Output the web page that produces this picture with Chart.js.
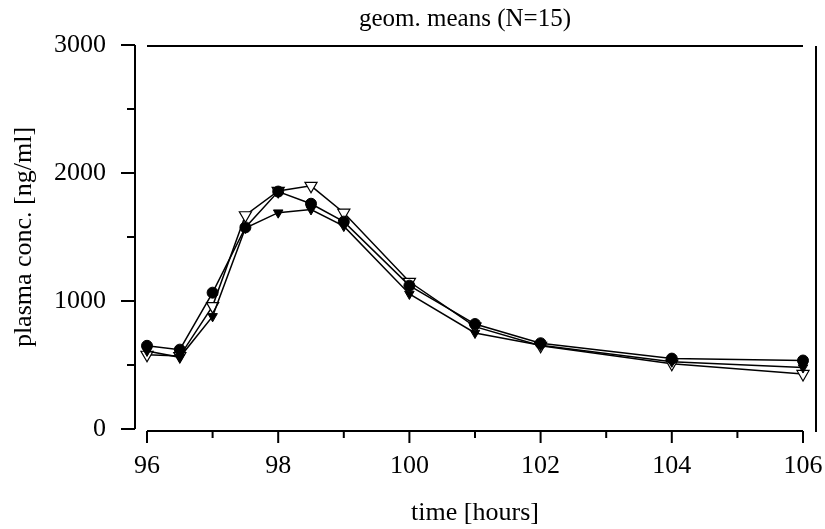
<!DOCTYPE html>
<html>
<head>
<meta charset="utf-8">
<script src="https://cdn.jsdelivr.net/npm/chart.js@4"></script>
<style>
  html, body { margin: 0; padding: 0; background: #fff; }
  #wrap { width: 825px; height: 529px; }
</style>
</head>
<body>
<div id="wrap"><canvas id="pk_chart" width="825" height="529"></canvas></div>
<script>
// sampling times (hours)
var hours = [96, 96.5, 97, 97.5, 98, 98.5, 99, 100, 101, 102, 104, 106];
// geometric means, plasma conc. [ng/ml]
var conc_circle = [650, 620, 1065, 1575, 1855, 1760, 1620, 1120, 820, 670, 550, 535];
var conc_filled_tri = [610, 560, 880, 1570, 1690, 1715, 1585, 1055, 750, 655, 525, 480];
var conc_open_tri = [580, 570, 960, 1670, 1860, 1900, 1690, 1150, 800, 650, 510, 430];

var x_major = [96, 98, 100, 102, 104, 106];
var x_minor = [97, 99, 101, 103, 105];
var y_major = [0, 1000, 2000, 3000];
var y_minor = [500, 1500, 2500];

function pts(ys) {
  return hours.map(function (h, i) { return {x: h, y: ys[i]}; });
}

var serif = '"Liberation Serif", "DejaVu Serif", serif';

function noPad(scale) {
  scale.paddingTop = 0;
  scale.paddingBottom = 0;
  scale.paddingLeft = 0;
  scale.paddingRight = 0;
}

// draws the detached axes, tick marks, frame and title
const framePlugin = {
  id: 'frame',
  afterDraw(chart) {
    const ctx = chart.ctx;
    const xs = chart.scales.x, ys = chart.scales.y;
    const area = chart.chartArea;
    const yAxisX = area.left - 12;
    const xAxisY = area.bottom + 2;
    ctx.save();
    ctx.strokeStyle = '#000';
    ctx.lineWidth = 2;
    ctx.beginPath();
    // y axis
    ctx.moveTo(yAxisX, ys.getPixelForValue(3000));
    ctx.lineTo(yAxisX, ys.getPixelForValue(0));
    y_major.forEach(function (v) {
      ctx.moveTo(yAxisX - 14, ys.getPixelForValue(v));
      ctx.lineTo(yAxisX, ys.getPixelForValue(v));
    });
    y_minor.forEach(function (v) {
      ctx.moveTo(yAxisX - 8, ys.getPixelForValue(v));
      ctx.lineTo(yAxisX, ys.getPixelForValue(v));
    });
    // x axis
    ctx.moveTo(xs.getPixelForValue(96), xAxisY);
    ctx.lineTo(xs.getPixelForValue(106), xAxisY);
    x_major.forEach(function (v) {
      ctx.moveTo(xs.getPixelForValue(v), xAxisY);
      ctx.lineTo(xs.getPixelForValue(v), xAxisY + 12);
    });
    x_minor.forEach(function (v) {
      ctx.moveTo(xs.getPixelForValue(v), xAxisY);
      ctx.lineTo(xs.getPixelForValue(v), xAxisY + 7);
    });
    // top and right frame
    const topY = ys.getPixelForValue(3000) + 1;
    ctx.moveTo(xs.getPixelForValue(96), topY);
    ctx.lineTo(xs.getPixelForValue(106), topY);
    const rightX = xs.getPixelForValue(106) + 13;
    ctx.moveTo(rightX, topY);
    ctx.lineTo(rightX, xAxisY + 1);
    ctx.stroke();

    ctx.fillStyle = '#000';
    ctx.font = '25px ' + serif;
    ctx.textAlign = 'center';
    ctx.textBaseline = 'middle';
    ctx.fillText('geom. means (N=15)', 465, 19);
    ctx.restore();
  }
};

const data = {
  datasets: [{
    label: 'circle',
    data: pts(conc_circle),
    borderColor: '#000',
    backgroundColor: '#000',
    borderWidth: 1.5,
    pointStyle: 'circle',
    pointRadius: 5.5,
    pointBorderWidth: 1
  }, {
    label: 'filled triangle',
    data: pts(conc_filled_tri),
    borderColor: '#000',
    backgroundColor: '#000',
    borderWidth: 1.5,
    pointStyle: 'triangle',
    rotation: 180,
    pointRadius: 5.5,
    pointBorderWidth: 1
  }, {
    label: 'open triangle',
    data: pts(conc_open_tri),
    borderColor: '#000',
    backgroundColor: '#fff',
    pointBackgroundColor: '#fff',
    borderWidth: 1.5,
    pointStyle: 'triangle',
    rotation: 180,
    pointRadius: 7,
    pointBorderWidth: 1.2
  }]
};

const config = {
  type: 'line',
  data: data,
  plugins: [framePlugin],
  options: {
    responsive: false,
    animation: false,
    clip: false,
    layout: {padding: {top: 45, right: 22, bottom: 0, left: 0}},
    plugins: {
      legend: {display: false},
      title: {display: false},
      tooltip: {enabled: false}
    },
    scales: {
      x: {
        type: 'linear',
        min: 96,
        max: 106,
        grid: {display: false, drawTicks: false},
        border: {display: false},
        ticks: {
          stepSize: 2,
          padding: 22,
          color: '#000',
          font: {family: serif, size: 26},
          maxRotation: 0,
          callback: function (v) { return String(v); }
        },
        title: {
          display: true,
          text: 'time [hours]',
          color: '#000',
          font: {family: serif, size: 26},
          padding: {top: 0, bottom: 0}
        },
        afterFit: function (scale) { scale.height = 100; noPad(scale); }
      },
      y: {
        min: 0,
        max: 3000,
        grid: {display: false, drawTicks: false},
        border: {display: false},
        ticks: {
          stepSize: 1000,
          padding: 41,
          color: '#000',
          font: {family: serif, size: 26},
          callback: function (v) { return String(v); }
        },
        title: {
          display: true,
          text: 'plasma conc. [ng/ml]',
          color: '#000',
          font: {family: serif, size: 26},
          padding: {top: 9, bottom: 0}
        },
        afterFit: function (scale) { scale.width = 147; noPad(scale); }
      }
    }
  }
};

const myChart = new Chart(
  document.getElementById('pk_chart'),
  config
);
</script>
</body>
</html>
